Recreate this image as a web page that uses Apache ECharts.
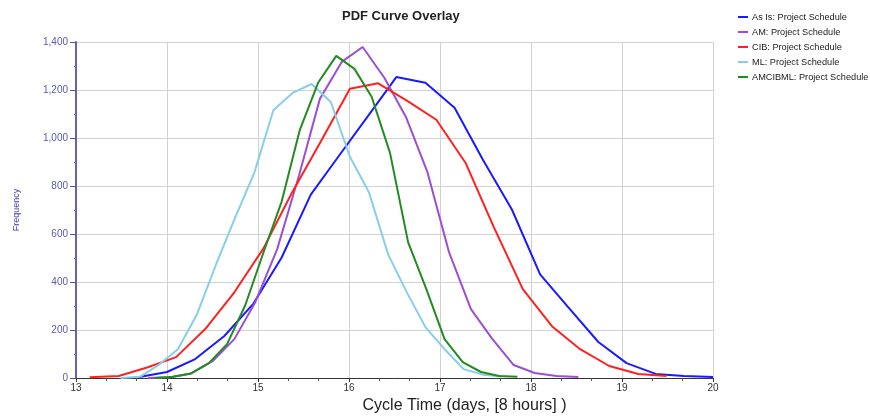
<!DOCTYPE html>
<html>
<head>
<meta charset="utf-8">
<title>PDF Curve Overlay</title>
<script src="https://cdn.jsdelivr.net/npm/echarts@6/dist/echarts.min.js"></script>
<style>
  html, body { margin: 0; padding: 0; background: #fff; }
  #chart { width: 870px; height: 419px; }
</style>
</head>
<body>
<div id="chart"></div>
<script>
// cycle time bins (days) and frequencies per scenario
const asIsX = [13.68, 14.00, 14.31, 14.63, 14.95, 15.26, 15.58, 15.89, 16.21, 16.52, 16.84, 17.16, 17.47, 17.79, 18.10, 18.42, 18.74, 19.05, 19.37, 19.68, 20.00]
const asIsY = [3, 25, 79, 175, 310, 502, 764, 926, 1092, 1254, 1230, 1126, 910, 702, 432, 290, 150, 62, 17, 8, 4]

const amX = [13.79, 14.03, 14.26, 14.50, 14.74, 14.97, 15.21, 15.45, 15.68, 15.92, 16.15, 16.39, 16.63, 16.86, 17.10, 17.34, 17.57, 17.81, 18.04, 18.28, 18.52]
const amY = [0, 3, 18, 70, 162, 316, 536, 843, 1163, 1317, 1379, 1250, 1084, 860, 523, 287, 165, 54, 21, 8, 4]

const cibX = [13.15, 13.47, 13.79, 14.10, 14.42, 14.74, 15.06, 15.37, 15.69, 16.01, 16.32, 16.64, 16.96, 17.28, 17.59, 17.91, 18.23, 18.54, 18.86, 19.18, 19.49]
const cibY = [3, 8, 45, 87, 204, 357, 540, 770, 985, 1205, 1228, 1155, 1076, 897, 630, 370, 216, 120, 50, 17, 8]

const mlX = [13.49, 13.70, 13.91, 14.12, 14.33, 14.54, 14.75, 14.96, 15.17, 15.38, 15.59, 15.80, 16.01, 16.22, 16.43, 16.63, 16.84, 17.05, 17.26, 17.47, 17.68]
const mlY = [0, 5, 55, 120, 266, 474, 669, 856, 1117, 1188, 1225, 1150, 922, 773, 515, 361, 212, 120, 37, 14, 6]

const allX = [13.87, 14.07, 14.27, 14.46, 14.66, 14.86, 15.06, 15.26, 15.46, 15.66, 15.86, 16.06, 16.25, 16.45, 16.65, 16.85, 17.05, 17.25, 17.45, 17.65, 17.85]
const allY = [0, 5, 20, 62, 141, 303, 523, 735, 1034, 1230, 1342, 1288, 1171, 939, 565, 370, 162, 66, 25, 8, 5]

const seriesNames = ['As Is: Project Schedule', 'AM: Project Schedule', 'CIB: Project Schedule', 'ML: Project Schedule', 'AMCIBML: Project Schedule']
const seriesColors = ['#1a1aff', '#9a4fd4', '#ff2020', '#87ceeb', '#228b22']
const xTicks = [13, 20]
const yTicks = [0, 1400]

const font = '"Liberation Sans", Arial, sans-serif'

function pairs(xs, ys) {
  return xs.map((x, i) => [x, ys[i]])
}

const seriesData = [
  pairs(asIsX, asIsY),
  pairs(amX, amY),
  pairs(cibX, cibY),
  pairs(mlX, mlY),
  pairs(allX, allY)
]

const chart = echarts.init(document.getElementById('chart'))
chart.setOption({
  animation: false,
  textStyle: { fontFamily: font },
  title: {
    text: 'PDF Curve Overlay',
    left: 337,
    top: 5,
    textStyle: { fontSize: 13, fontWeight: 'bold', color: '#222', fontFamily: font }
  },
  legend: {
    orient: 'vertical',
    left: 733,
    top: 6,
    itemWidth: 10,
    itemHeight: 2,
    itemGap: 3,
    icon: 'rect',
    data: seriesNames,
    textStyle: { fontSize: 9.2, color: '#222', lineHeight: 12, padding: [0, 0, 0, -1] }
  },
  grid: {
    left: 76,
    right: 157,
    top: 42,
    bottom: 40
  },
  xAxis: {
    type: 'value',
    min: xTicks[0],
    max: xTicks[1],
    interval: 1,
    name: 'Cycle Time (days, [8 hours] )',
    nameLocation: 'middle',
    nameGap: 20,
    nameTextStyle: { fontSize: 16, color: '#222', padding: [0, 0, 0, 140] },
    axisLine: { show: true, onZero: false, lineStyle: { color: '#333', width: 1 } },
    axisTick: { show: true, length: 4, lineStyle: { color: '#333' } },
    minorTick: { show: true, splitNumber: 3, length: 3, lineStyle: { color: '#555' } },
    axisLabel: { fontSize: 10, color: '#333', margin: 5 },
    splitLine: { show: true, lineStyle: { color: '#d2d2d2', width: 1 } }
  },
  yAxis: {
    type: 'value',
    min: yTicks[0],
    max: yTicks[1],
    interval: 200,
    name: 'Frequency',
    nameLocation: 'middle',
    nameRotate: 90,
    nameGap: 55,
    nameTextStyle: { fontSize: 9, color: '#3c3ca8' },
    axisLine: { show: true, lineStyle: { color: '#6464b4', width: 2 } },
    axisTick: { show: true, length: 6, lineStyle: { color: '#5050a8' } },
    minorTick: { show: true, splitNumber: 2, length: 2, lineStyle: { color: '#777' } },
    axisLabel: {
      fontSize: 10,
      color: '#5a5aa8',
      margin: 8,
      formatter: v => v.toLocaleString('en-US')
    },
    splitLine: { show: true, lineStyle: { color: '#d2d2d2', width: 1 } }
  },
  series: seriesNames.map((name, i) => ({
    name: name,
    type: 'line',
    data: seriesData[i],
    showSymbol: false,
    color: seriesColors[i],
    lineStyle: { width: 2, color: seriesColors[i] }
  }))
})
</script>
</body>
</html>
